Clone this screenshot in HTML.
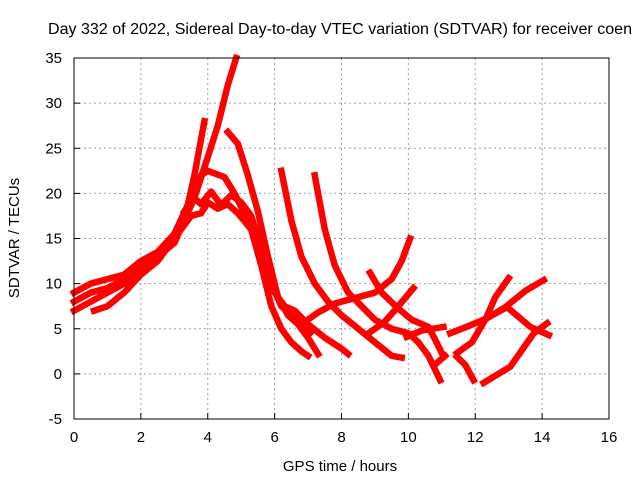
<!DOCTYPE html>
<html><head><meta charset="utf-8"><style>
body{margin:0;background:#fff;}
svg{display:block;font-family:"Liberation Sans",sans-serif;}
</style></head><body>
<svg id="chart" width="640" height="480">
<text x="48" y="34" font-size="15.5" textLength="584" lengthAdjust="spacingAndGlyphs">Day 332 of 2022, Sidereal Day-to-day VTEC variation (SDTVAR) for receiver coen</text>
<g id="grid"></g><g id="series"></g><g id="axes"></g>
<text x="340" y="471" font-size="15" text-anchor="middle">GPS time / hours</text>
<text x="0" y="0" font-size="15" text-anchor="middle" transform="translate(19,238) rotate(-90)">SDTVAR / TECUs</text>
</svg>
<script>
const xTicks=[0,2,4,6,8,10,12,14,16];
const yTicks=[-5,0,5,10,15,20,25,30,35];
const sA=[[0,7],[0.5,8],[1,9],[1.5,10],[2,11.5],[2.5,13],[3,15],[3.3,17],[3.6,22],[3.9,28]];
const sB=[[0,8],[0.5,9],[1,9.5],[1.5,10.5],[2,12],[2.5,13],[3,14.5],[3.3,17],[3.6,19.5],[4,24],[4.3,27.5],[4.6,32],[4.85,35]];
const sC=[[4.6,26.8],[4.9,25.5],[5.2,22],[5.5,18],[5.8,13],[6.1,8.5],[6.4,6.5],[6.7,5.5],[7,4],[7.3,2.2]];
const sD=[[0,9],[0.5,10],[1,10.5],[1.5,11],[2,12.5],[2.5,13.5],[3,15.5],[3.5,19.5],[3.8,22],[4,22.5],[4.5,21.8],[4.8,20],[5.2,17],[5.5,14],[5.8,11],[6,9],[6.3,7.5],[6.6,7],[7,5.5],[7.5,4],[8,2.8],[8.2,2.2]];
const sE=[[3.3,18],[3.6,19.5],[3.8,18.8],[4.1,20.2],[4.4,18.7],[4.7,19.8],[5,19],[5.3,17.5],[5.6,14],[5.9,10],[6.2,7.5],[6.5,6.5],[6.8,5.5],[7.05,4.5]];
const sF=[[0.6,7],[1,7.5],[1.5,9],[2,11],[2.5,12.5],[3,15],[3.5,17.5],[3.8,17.8],[4,19],[4.3,18.3],[4.6,18.8],[4.9,17.8],[5.3,16],[5.6,12],[5.9,7.5],[6.2,5],[6.5,3.5],[6.8,2.5],[7,2]];
const sG=[[6.2,22.5],[6.5,17],[6.8,13],[7.2,10],[7.6,8],[8,6.5],[8.5,5],[9,3.5],[9.5,2],[9.8,1.8]];
const sH=[[7.2,22],[7.5,16],[7.8,12],[8.2,9],[8.6,7.5],[9,6],[9.5,5],[10,4.5],[10.3,3.5],[10.6,2],[10.95,-0.7]];
const sI=[[6.8,5.5],[7.3,6.8],[7.8,7.8],[8.5,8.5],[9,9],[9.5,10.5],[9.8,12.5],[10.05,15]];
const sJ=[[8.85,11.2],[9.2,9],[9.65,7.4],[10.1,6],[10.6,5.2],[10.8,3.8],[11.0,2.3]];
const sK=[[8.85,4.6],[9.3,5.8],[9.7,7.5],[10.15,9.5]];
const sL=[[9.95,4.1],[10.4,4.8],[11.05,5.2]];
const sM=[[10.85,1.2],[11.1,2]];
const sN=[[11.45,2.3],[11.9,3.5],[12.3,6],[12.6,8.5],[13.0,10.6]];
const sO=[[11.25,4.5],[11.8,5.3],[12.25,6],[12.95,7.4],[13.65,5.2],[14.2,4.3]];
const sP=[[11.45,1.9],[11.7,1],[11.95,-0.7]];
const sQ=[[12.25,-1],[13.05,0.8],[13.75,4.5],[14.15,5.6]];
const sR=[[12.15,5.7],[12.9,7.4],[13.5,9.2],[14.05,10.4]];
const seriesList=[sA,sB,sC,sD,sE,sF,sG,sH,sI,sJ,sK,sL,sM,sN,sO,sP,sQ,sR];
const X0=74,X1=609,Y0=419,Y1=58;
const sx=v=>X0+(v-0)/(16-0)*(X1-X0);
const sy=v=>Y0-(v+5)/(40)*(Y0-Y1);
const NS="http://www.w3.org/2000/svg";
const mk=(t,a,p)=>{const e=document.createElementNS(NS,t);for(const k in a)e.setAttribute(k,a[k]);p.appendChild(e);return e;};
const grid=document.getElementById('grid'),axes=document.getElementById('axes'),ser=document.getElementById('series');
xTicks.forEach(t=>{
  if(t>0&&t<16){const l=mk('line',{x1:sx(t),x2:sx(t),y1:Y1,y2:Y0,stroke:'#a0a0a0','stroke-dasharray':'2,3'},grid);
  
  }
  const tk=mk('line',{x1:sx(t),x2:sx(t),y1:Y0,y2:Y0-6,stroke:'#000'},axes);
  
  
  const tx=mk('text',{x:sx(t),y:Y0+23,'font-size':15,'text-anchor':'middle'},axes);tx.textContent=t;
  
  
});
yTicks.forEach(t=>{
  if(t>-5&&t<35){const l=mk('line',{x1:X0,x2:X1,y1:sy(t),y2:sy(t),stroke:'#a0a0a0','stroke-dasharray':'2,3'},grid);
  
  }
  const tk=mk('line',{x1:X0,x2:X0+6,y1:sy(t),y2:sy(t),stroke:'#000'},axes);
  
  
  const tx=mk('text',{x:X0-12,y:sy(t)+5,'font-size':15,'text-anchor':'end'},axes);tx.textContent=t;
  
  
});
const box=mk('rect',{x:X0,y:Y1,width:X1-X0,height:Y0-Y1,fill:'none',stroke:'#000'},axes);


seriesList.forEach((s,i)=>{
  const p=mk('polyline',{points:s.map(d=>sx(d[0])+','+sy(d[1])).join(' '),fill:'none',stroke:'#f00','stroke-width':6.5,'stroke-linejoin':'round','stroke-linecap':'square'},ser);
  
  
});
</script>
</body></html>
